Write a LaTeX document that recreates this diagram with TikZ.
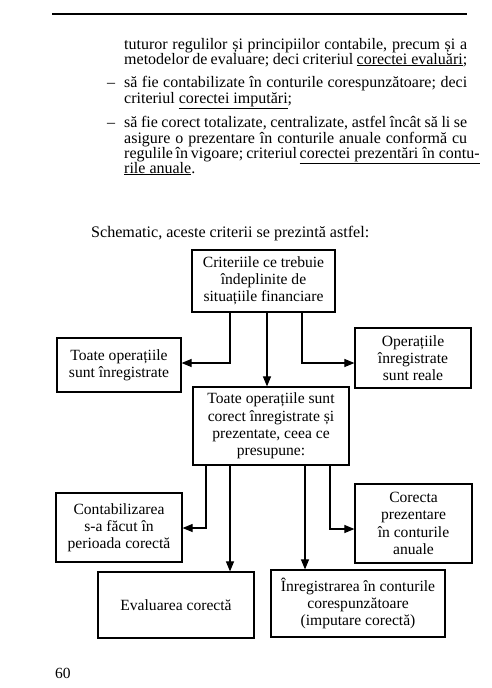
\documentclass[tikz,border=0pt]{standalone}
\usepackage{fontspec}
\setmainfont{Liberation Serif}
\usetikzlibrary{arrows.meta}
\begin{document}
\begin{tikzpicture}[x=1pt,y=-1pt,
  txt/.style={inner sep=0pt,anchor=base west,font=\fontsize{16.0}{15}\selectfont},
  box/.style={draw,line width=1.2pt,align=center,inner sep=2pt,
    font=\fontsize{15.6}{17.2}\selectfont},
  arr/.style={line width=1.1pt,-{Triangle[length=10pt,width=8pt]}},
  ln/.style={line width=1.1pt}]
\useasboundingbox (0,0) rectangle (492,688);
% top rule
\draw[line width=1.4pt] (52,14) -- (467,14);
% paragraph text
\node[txt] (l1) at (124,49) {\makebox[343pt][s]{tuturor regulilor și principiilor contabile, precum și a}};
\node[txt] (l2) at (124,64) {\makebox[343pt][s]{metodelor de evaluare; deci criteriul \underline{corectei evaluări};}};
\node[txt] (d1) at (107,87) {–};
\node[txt] (l3) at (124,87) {\makebox[343pt][s]{să fie contabilizate în conturile corespunzătoare; deci}};
\node[txt] (l4) at (124,103) {criteriul \underline{corectei imputări};};
\node[txt] (d2) at (107,127) {–};
\node[txt] (l5) at (124,127) {\makebox[343pt][s]{să fie corect totalizate, centralizate, astfel încât să li se}};
\node[txt] (l6) at (124,143) {\makebox[343pt][s]{asigure o prezentare în conturile anuale conformă cu}};
\node[txt] (l7) at (124,158) {\makebox[343pt][s]{regulile în vigoare; criteriul \underline{corectei prezentări în contu-}}};
\node[txt] (l8) at (124,173) {\underline{rile anuale}.};
\node[txt,font=\fontsize{16.1}{15}\selectfont] (sch) at (91,237) {Schematic, aceste criterii se prezintă astfel:};
% boxes
\node[box,minimum width=143pt,minimum height=62pt] (top) at (263.5,281) {Criteriile ce trebuie\\îndeplinite de\\situațiile financiare};
\node[box,minimum width=124pt,minimum height=54pt] (opi) at (119,365) {Toate operațiile\\sunt înregistrate};
\node[box,minimum width=116pt,minimum height=60pt] (opr) at (413,358) {Operațiile\\înregistrate\\sunt reale};
\node[box,minimum width=156pt,minimum height=78pt] (mid) at (271,426) {Toate operațiile sunt\\corect înregistrate și\\prezentate, ceea ce\\presupune:};
\node[box,minimum width=126pt,minimum height=69pt] (cont) at (119,527.5) {Contabilizarea\\s-a făcut în\\perioada corectă};
\node[box,minimum width=117pt,minimum height=79pt] (prez) at (413.5,523.5) {Corecta\\prezentare\\în conturile\\anuale};
\node[box,minimum width=156pt,minimum height=66pt] (eval) at (176,605) {Evaluarea corectă};
\node[box,minimum width=174pt,minimum height=67pt] (inr) at (358,603.5) {Înregistrarea în conturile\\corespunzătoare\\(imputare corectă)};
% page number
\node[txt,font=\fontsize{15.5}{15}\selectfont] (pg) at (55,678) {60};
% connectors
\draw[arr] (top.south -| 230,0) |- (opi.east |- 0,363);
\draw[arr] (top.south -| 267,0) -- (mid.north -| 267,0);
\draw[arr] (top.south -| 302,0) |- (opr.west |- 0,363);
\draw[arr] (mid.south -| 206,0) |- (cont.east |- 0,528);
\draw[arr] (mid.south -| 230,0) -- (eval.north -| 230,0);
\draw[arr] (mid.south -| 305,0) -- (inr.north -| 305,0);
\draw[arr] (mid.south -| 330,0) |- (prez.west |- 0,529);
\end{tikzpicture}
\end{document}
